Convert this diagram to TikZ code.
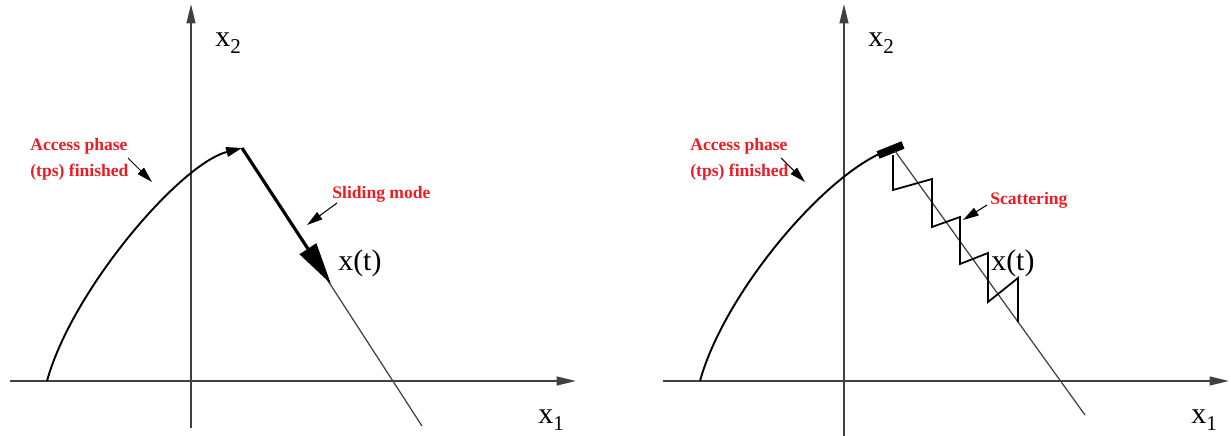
\documentclass[tikz,border=0pt]{standalone}
\usepackage{fontspec}
\setmainfont{Liberation Serif}
\usetikzlibrary{arrows.meta, positioning}
\definecolor{rossonota}{RGB}{236,28,36}
\newcommand{\pedice}[1]{\raisebox{-4pt}{\fontsize{12}{12}\selectfont #1}}

\begin{document}
\begin{tikzpicture}[
  x=0.02cm, y=-0.02cm,
  asse/.style={draw=black!75, line width=1pt, -{Triangle[length=11pt,width=5pt]}},
  traiettoria/.style={draw=black, line width=1.1pt},
  punta/.style={-{Triangle[length=9pt,width=5.5pt]}},
  nessuna/.style={},
  scorrimento/.style={draw=black, line width=1.8pt, -{Triangle[length=24pt,width=11pt]}},
  retta/.style={draw=black!75, line width=0.7pt},
  tacca/.style={draw=black, line width=4.5pt},
  dente/.style={draw=black, line width=1pt, line join=miter},
  nota/.style={text=rossonota, font=\fontsize{10}{14.8}\selectfont\bfseries, align=left, inner sep=0pt},
  richiamo/.style={draw=black, line width=0.6pt, -{Triangle[length=9pt,width=5pt]}},
  etichetta/.style={font=\fontsize{17}{17}\selectfont, inner sep=0pt}
]
\useasboundingbox (0,0) rectangle (1231,436);

% i due piani di fase
\foreach \p/\dx/\tx/\yb/\fine in {L/0/0/428/punta, R/653/7/436/nessuna} {
  \begin{scope}[shift={(\dx,0)}]
    \coordinate (O\p) at (10,381);
    \coordinate (X\p) at (576,381);
    \coordinate (B\p) at (191,\yb);
    \coordinate (Y\p) at (191,4);
    \draw[asse] (O\p) -- (X\p);
    \draw[asse] (B\p) -- (Y\p);
    \node[etichetta, anchor=base west] (x1\p) at (538,423) {x\pedice{1}};
    \node[etichetta, anchor=base west] (x2\p) at (215,46) {x\pedice{2}};
    \node[etichetta, anchor=base west] (xt\p) at (338,270) {x(t)};
    % fase di accesso
    \coordinate (S\p) at (47,381);
    \coordinate (T\p) at (242,148);
    \draw[traiettoria, \fine] (S\p) .. controls (72,290) and (180,164) .. (T\p);
    \node[nota, anchor=west] (acc\p) at (30+\tx,159) {Access phase\\(tps) finished};
    \coordinate (ra\p) at (128,158);
    \coordinate (rb\p) at (152,182);
    \draw[richiamo] (ra\p) -- (rb\p);
  \end{scope}
}

% modo scorrevole ideale
\coordinate (PL) at (331,284);
\coordinate (EL) at (422,426);
\draw[retta] (TL) -- (EL);
\draw[scorrimento] (TL) -- (PL);
\node[nota, anchor=west] (scorr) at (332,194) {Sliding mode};
\coordinate (rc) at (337,203);
\coordinate (rd) at (307,225);
\draw[richiamo] (rc) -- (rd);

% modo scorrevole reale
\coordinate (barA) at (878,155);
\coordinate (barB) at (903,145);
\draw[tacca] (barA) -- (barB);
\coordinate (PR) at (895,151);
\coordinate (ER) at (1085,415);
\draw[retta] (PR) -- (ER);
\draw[dente] (893,155) -- (893,190) -- (932,179) -- (932,227) -- (960,217) -- (960,264)
  -- (988,253) -- (988,302) -- (1018,278) -- (1018,322);
\node[nota, anchor=west] (scat) at (990,200) {Scattering};
\coordinate (re) at (987,205);
\coordinate (rf) at (963,220);
\draw[richiamo] (re) -- (rf);

\end{tikzpicture}
\end{document}
